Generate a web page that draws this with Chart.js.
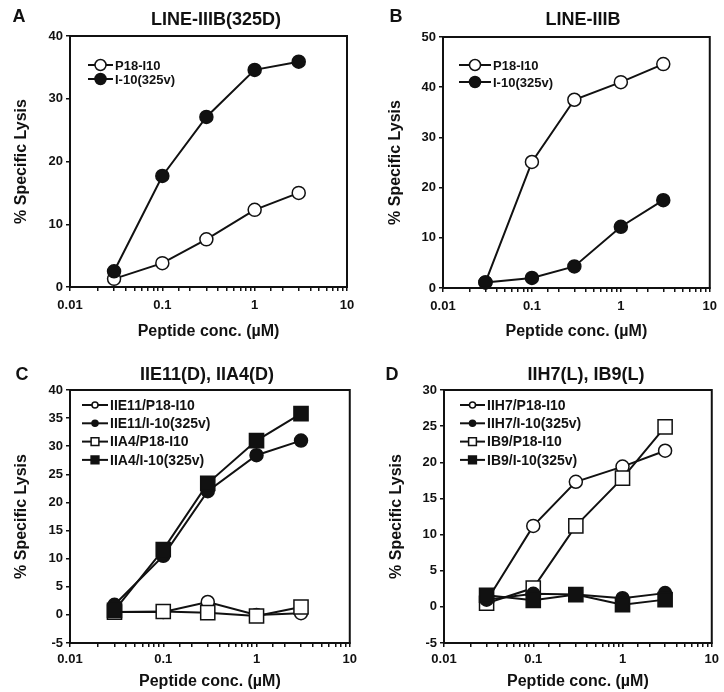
<!DOCTYPE html>
<html>
<head>
<meta charset="utf-8">
<script src="https://cdn.jsdelivr.net/npm/chart.js@4/dist/chart.umd.min.js"></script>
<style>
  html, body { margin: 0; padding: 0; background: #fff; }
  body { width: 724px; height: 692px; position: relative; overflow: hidden; font-family: "Liberation Sans", Arial, sans-serif; color: #111; }
  .panel { position: absolute; width: 362px; height: 346px; }
  .lbl { position: absolute; font-weight: bold; transform: translate(-50%, -50%); white-space: nowrap; }
  .letter { font-size: 18px; }
  .title { font-size: 18px; }
</style>
</head>
<body>
<div class="panel" style="left:0;top:0"><canvas id="chartA"></canvas></div>
<div class="panel" style="left:362px;top:0"><canvas id="chartB"></canvas></div>
<div class="panel" style="left:0;top:346px"><canvas id="chartC"></canvas></div>
<div class="panel" style="left:362px;top:346px"><canvas id="chartD"></canvas></div>

<div class="lbl letter" style="left:19px;top:16px">A</div>
<div class="lbl title" style="left:216px;top:19px">LINE-IIIB(325D)</div>
<div class="lbl letter" style="left:396px;top:16px">B</div>
<div class="lbl title" style="left:583px;top:19px">LINE-IIIB</div>
<div class="lbl letter" style="left:22px;top:374px">C</div>
<div class="lbl title" style="left:207px;top:374px">IIE11(D), IIA4(D)</div>
<div class="lbl letter" style="left:392px;top:374px">D</div>
<div class="lbl title" style="left:586px;top:374px">IIH7(L), IB9(L)</div>

<script>
// peptide concentrations (uM), same for every panel
const conc = [0.03, 0.1, 0.3, 1, 3];

// A: LINE-IIIB(325D)
const aLabels = ["P18-I10", "I-10(325v)"];
const aP18 = [1.3, 3.8, 7.6, 12.3, 15.0];
const aI10 = [2.5, 17.7, 27.1, 34.6, 35.9];

// B: LINE-IIIB
const bLabels = ["P18-I10", "I-10(325v)"];
const bP18 = [1.1, 25.1, 37.5, 41.0, 44.6];
const bI10 = [1.1, 2.0, 4.3, 12.2, 17.5];

// C: IIE11(D), IIA4(D)
const cLabels = ["IIE11/P18-I10", "IIE11/I-10(325v)", "IIA4/P18-I10", "IIA4/I-10(325v)"];
const cE11P18 = [0.5, 0.5, 2.3, 0.0, 0.3];
const cE11I10 = [1.8, 10.5, 22.0, 28.4, 31.0];
const cA4P18 = [0.5, 0.6, 0.4, -0.2, 1.4];
const cA4I10 = [0.8, 11.6, 23.4, 31.0, 35.8];

// D: IIH7(L), IB9(L)
const dLabels = ["IIH7/P18-I10", "IIH7/I-10(325v)", "IB9/P18-I10", "IB9/I-10(325v)"];
const dH7P18 = [0.8, 11.2, 17.3, 19.4, 21.6];
const dH7I10 = [1.0, 1.8, 1.7, 1.2, 1.9];
const dB9P18 = [0.5, 2.6, 11.2, 17.8, 24.9];
const dB9I10 = [1.6, 0.9, 1.7, 0.3, 1.0];

const INK = "#111";
Chart.defaults.font.family = "'Liberation Sans', Arial, sans-serif";
Chart.defaults.color = INK;

function drawMarker(ctx, style, x, y, r) {
  ctx.beginPath();
  if (style === "rect") {
    const h = r * Math.SQRT1_2;
    ctx.rect(x - h, y - h, 2 * h, 2 * h);
  } else {
    ctx.arc(x, y, r, 0, Math.PI * 2);
  }
  ctx.fill();
  ctx.stroke();
}

// legend in sigmaplot style: line with the marker in the middle
const lineLegend = {
  id: "lineLegend",
  afterDatasetsDraw(chart, args, o) {
    const ctx = chart.ctx;
    ctx.save();
    ctx.font = `bold ${o.size}px 'Liberation Sans', Arial, sans-serif`;
    ctx.textBaseline = "middle";
    chart.data.datasets.forEach((ds, i) => {
      const y = o.y + i * o.row;
      ctx.strokeStyle = INK;
      ctx.lineWidth = 2;
      ctx.beginPath();
      ctx.moveTo(o.x0, y);
      ctx.lineTo(o.x1, y);
      ctx.stroke();
      ctx.fillStyle = ds.pointBackgroundColor;
      ctx.lineWidth = 1.5;
      drawMarker(ctx, ds.pointStyle, (o.x0 + o.x1) / 2, y, ds.pointStyle === "rect" ? o.rectR : o.circR);
      ctx.fillStyle = INK;
      ctx.fillText(ds.label, o.x1 + 2, y + 1);
    });
    ctx.restore();
  }
};

// closes the box round the plot area
const frame = {
  id: "frame",
  beforeDatasetsDraw(chart) {
    const a = chart.chartArea;
    const ctx = chart.ctx;
    ctx.save();
    ctx.strokeStyle = INK;
    ctx.lineWidth = 2;
    ctx.strokeRect(a.left, a.top, a.right - a.left, a.bottom - a.top);
    ctx.restore();
  }
};

// filled marks sit on top of open ones, squares on top of circles
function series(label, ys, filled, style, r) {
  return {
    label: label,
    data: conc.map((x, i) => ({ x: x, y: ys[i] })),
    order: (filled ? 0 : 2) + (style === "rect" ? 0 : 1),
    borderColor: INK,
    borderWidth: 2,
    pointStyle: style,
    pointRadius: r,
    pointHoverRadius: r,
    pointBackgroundColor: filled ? INK : "#fff",
    pointBorderColor: INK,
    pointBorderWidth: 1.5,
    clip: false
  };
}

function decadeLabel(v) {
  const l = Math.log10(v);
  return Math.abs(l - Math.round(l)) < 1e-6 ? String(Math.pow(10, Math.round(l))) : "";
}

function makePanel(id, datasets, p) {
  const tickGrid = { display: true, drawOnChartArea: false, drawTicks: true, tickLength: 4, color: INK, lineWidth: 1.5 };
  return new Chart(document.getElementById(id), {
    type: "line",
    data: { datasets: datasets },
    options: {
      animation: false,
      responsive: true,
      maintainAspectRatio: false,
      layout: { padding: { top: p.top, right: p.right, left: 0, bottom: 0 } },
      plugins: {
        legend: { display: false },
        tooltip: { enabled: false },
        lineLegend: p.legend
      },
      scales: {
        x: {
          type: "logarithmic",
          min: 0.01,
          max: 10,
          grid: tickGrid,
          border: { display: true, color: INK, width: 2 },
          ticks: { autoSkip: false, maxRotation: 0, padding: p.xPad, font: { size: 13, weight: "bold" }, callback: decadeLabel },
          title: { display: true, text: "Peptide conc. (\u00b5M)", font: { size: 16, weight: "bold" }, padding: { top: 0, bottom: p.xTitlePad } },
          afterFit: (s) => { s.height = p.xH; }
        },
        y: {
          min: p.yMin,
          max: p.yMax,
          grid: tickGrid,
          border: { display: true, color: INK, width: 2 },
          ticks: { stepSize: p.yStep, padding: 3, font: { size: 13, weight: "bold" } },
          title: { display: true, text: "% Specific Lysis", font: { size: 16, weight: "bold" }, padding: { top: p.yTitlePad, bottom: 0 } },
          afterFit: (s) => { s.width = p.yW; }
        }
      }
    },
    plugins: [frame, lineLegend]
  });
}

makePanel("chartA", [
  series(aLabels[0], aP18, false, "circle", 6.5),
  series(aLabels[1], aI10, true, "circle", 6.5)
], { top: 36, right: 15, yW: 70, xH: 59, yMin: 0, yMax: 40, yStep: 10, xPad: 7, xTitlePad: 5, yTitlePad: 12,
     legend: { x0: 88, x1: 113, y: 65, row: 14, size: 13, circR: 5.5, rectR: 7 } });

makePanel("chartB", [
  series(bLabels[0], bP18, false, "circle", 6.5),
  series(bLabels[1], bI10, true, "circle", 6.5)
], { top: 37, right: 11, yW: 81, xH: 58, yMin: 0, yMax: 50, yStep: 10, xPad: 7, xTitlePad: 5, yTitlePad: 24,
     legend: { x0: 97, x1: 129, y: 65, row: 17, size: 13, circR: 5.5, rectR: 7 } });

makePanel("chartC", [
  series(cLabels[0], cE11P18, false, "circle", 6.5),
  series(cLabels[1], cE11I10, true, "circle", 6.5),
  series(cLabels[2], cA4P18, false, "rect", 10),
  series(cLabels[3], cA4I10, true, "rect", 10)
], { top: 44, right: 10, yW: 70, xH: 49, yMin: -5, yMax: 40, yStep: 5, xPad: 5, xTitlePad: 1, yTitlePad: 12,
     legend: { x0: 82, x1: 108, y: 59, row: 18.3, size: 14, circR: 3, rectR: 5.5 } });

makePanel("chartD", [
  series(dLabels[0], dH7P18, false, "circle", 6.5),
  series(dLabels[1], dH7I10, true, "circle", 6.5),
  series(dLabels[2], dB9P18, false, "rect", 10),
  series(dLabels[3], dB9I10, true, "rect", 10)
], { top: 44, right: 10, yW: 82, xH: 49, yMin: -5, yMax: 30, yStep: 5, xPad: 5, xTitlePad: 1, yTitlePad: 25,
     legend: { x0: 98, x1: 123, y: 59, row: 18.3, size: 14, circR: 3, rectR: 5.5 } });
</script>
</body>
</html>
